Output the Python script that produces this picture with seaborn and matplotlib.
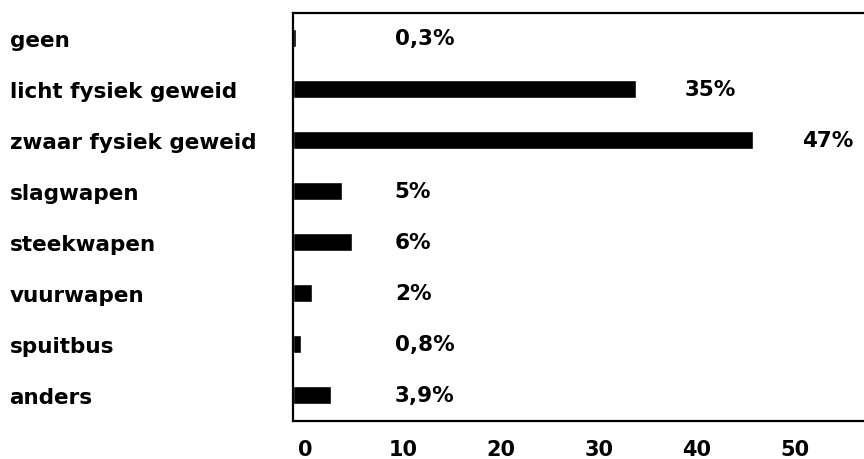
import pandas as pd
import matplotlib.pyplot as plt
import matplotlib.transforms as mtransforms
import seaborn as sns

categories = ['geen', 'licht fysiek geweid', 'zwaar fysiek geweid', 'slagwapen',
              'steekwapen', 'vuurwapen', 'spuitbus', 'anders']
percent = [0.3, 35, 47, 5, 6, 2, 0.8, 3.9]
labels = ['0,3%', '35%', '47%', '5%', '6%', '2%', '0,8%', '3,9%']

df = pd.DataFrame({'cat': categories, 'pct': percent})

sns.set_style('white')
plt.rcParams['font.family'] = ['DejaVu Sans']
plt.rcParams['text.color'] = 'black'
plt.rcParams['xtick.color'] = 'black'
plt.rcParams['ytick.color'] = 'black'

fig = plt.figure(figsize=(8.64, 4.6), dpi=100)
ax = fig.add_axes([0.339, 0.083, 0.661, 0.887])

sns.barplot(data=df, y='cat', x='pct', color='black', orient='h', width=0.35,
            saturation=1, ax=ax)

# percentage labels
for i, (v, t) in enumerate(zip(percent, labels)):
    xpos = 10.4 if v < 10 else v + 5
    ax.text(xpos, i, t, va='center', ha='left', color='black',
            fontsize=15.5, fontweight='bold')

ax.set_xlim(0, 58.3)
ax.set_ylim(7.5, -0.5)
ax.set_xticks([0, 10, 20, 30, 40, 50])
ax.set_xlabel('')
ax.set_ylabel('')

ax.tick_params(axis='y', length=0, pad=204)
ax.tick_params(axis='x', length=0, pad=13)

for lab in ax.get_yticklabels():
    lab.set_ha('left')
    lab.set_fontweight('bold')
    lab.set_fontsize(15.5)

# x tick labels sit a little right of their tick in the original
shift = mtransforms.ScaledTranslation(0.12, 0, fig.dpi_scale_trans)
for tick in ax.xaxis.get_major_ticks():
    tick.label1.set_fontweight('bold')
    tick.label1.set_fontsize(15)
    tick.label1.set_transform(tick.label1.get_transform() + shift)

for s in ['top', 'bottom', 'left']:
    ax.spines[s].set_color('black')
    ax.spines[s].set_linewidth(1.6)
ax.spines['right'].set_visible(False)

fig.savefig('out.png', dpi=100)
